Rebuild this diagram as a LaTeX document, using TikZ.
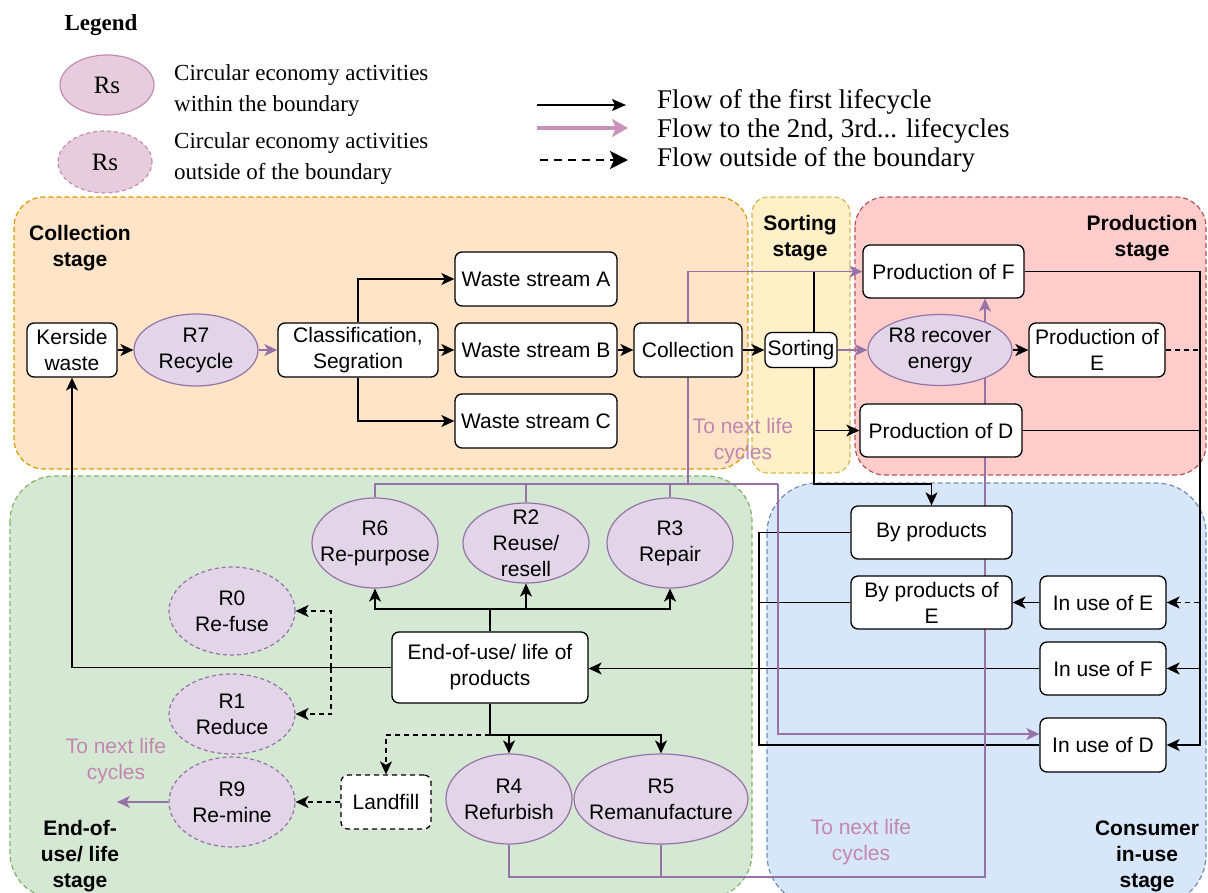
\documentclass[tikz,border=0pt]{standalone}
\usepackage{fontspec}
\setmainfont{Liberation Serif}
\newfontfamily\dsans{Liberation Sans}
\usetikzlibrary{shapes.geometric,arrows.meta,calc}
\pgfdeclarelayer{back}\pgfdeclarelayer{mid}
\pgfsetlayers{back,mid,main}
\newcommand\diagfont{\dsans\fontsize{21pt}{26pt}\selectfont}
\newcommand\legfont{\fontsize{23pt}{31pt}\selectfont}
\newcommand\flowfont{\fontsize{27pt}{30pt}\selectfont}
\definecolor{orF}{HTML}{FFE4C8}\definecolor{orS}{HTML}{D79B00}
\definecolor{yeF}{HTML}{FFF0C8}\definecolor{yeS}{HTML}{D6B656}
\definecolor{reF}{HTML}{FFCCCC}\definecolor{reS}{HTML}{B85450}
\definecolor{grF}{HTML}{D5E8D4}\definecolor{grS}{HTML}{82B366}
\definecolor{blF}{HTML}{D8E6FA}\definecolor{blS}{HTML}{6C8EBF}
\definecolor{puF}{HTML}{E1D5E7}\definecolor{puS}{HTML}{9673A6}
\definecolor{pkF}{HTML}{E6CCDC}\definecolor{pkS}{HTML}{C48DAE}
\definecolor{pkT}{HTML}{C287AE}\definecolor{legP}{HTML}{C993B9}
\begin{document}
\begin{tikzpicture}[x=1pt,y=-1pt,
  box/.style={draw=black, line width=1.3pt, fill=white, rounded corners=7pt, inner sep=0pt, align=center, font=\diagfont},
  rell/.style={ellipse, draw=puS, fill=puF, line width=1.2pt, inner sep=0pt},
  rout/.style={rell, dash pattern=on 4pt off 3pt},
  lell/.style={ellipse, draw=pkS, fill=pkF, line width=1.2pt, inner sep=0pt},
  etxt/.style={align=center, font=\diagfont, inner sep=0pt},
  stg/.style={line width=1.2pt, dash pattern=on 5pt off 3pt},
  stl/.style={align=center, font=\diagfont\bfseries, inner sep=0pt},
  nxt/.style={align=center, font=\diagfont, text=pkT, inner sep=0pt},
  blk/.style={draw=black, line width=1.4pt},
  blkA/.style={blk, -{Stealth[length=13pt,width=12pt,inset=3.5pt]}},
  pur/.style={draw=puS, line width=1.4pt},
  purA/.style={pur, -{Stealth[length=13pt,width=12pt,inset=3.5pt]}},
  dsh/.style={blk, dash pattern=on 5pt off 4pt},
  dshA/.style={dsh, -{Stealth[length=13pt,width=12pt,inset=3.5pt]}},
  legtxt/.style={align=left, font=\legfont, inner sep=0pt, anchor=west},
  flowtxt/.style={font=\flowfont, inner sep=0pt, anchor=west},
]
\useasboundingbox (0,0) rectangle (1208,892);

% stage containers
\begin{pgfonlayer}{back}
\begin{scope}
\clip (0,0) rectangle (1208,892);
\draw[stg, draw=orS, fill=orF, rounded corners=30pt] (14,197) rectangle (748,469);
\draw[stg, draw=yeS, fill=yeF, rounded corners=16pt] (752,197) rectangle (850,473);
\draw[stg, draw=reS, fill=reF, rounded corners=30pt] (855,197) rectangle (1206,475);
\draw[stg, draw=grS, fill=grF, rounded corners=45pt] (10,476) rectangle (752,898);
\draw[stg, draw=blS, fill=blF, rounded corners=50pt] (767,483) rectangle (1206,905);
\end{scope}
\end{pgfonlayer}

% legend
\node[font=\legfont\bfseries, inner sep=0pt] (legt) at (101,25) {Legend};
\node[lell, minimum width=94pt, minimum height=60pt] (ls1) at (107,85) {};
\node[font=\fontsize{25pt}{28pt}\selectfont, inner sep=0pt] at (ls1) {Rs};
\node[lell, dash pattern=on 4pt off 3pt, minimum width=94pt, minimum height=62pt] (ls2) at (105,162) {};
\node[font=\fontsize{25pt}{28pt}\selectfont, inner sep=0pt] at (ls2) {Rs};
\node[legtxt] (lt1) at (174,90) {Circular economy activities\\within the boundary};
\node[legtxt] (lt2) at (174,158) {Circular economy activities\\outside of the boundary};
\coordinate (la1) at (537,105); \coordinate (lb1) at (626,105);
\coordinate (la2) at (537,128); \coordinate (lb2) at (628,128);
\coordinate (la3) at (540,160); \coordinate (lb3) at (628,160);
\draw[draw=black, line width=1.5pt, -{Stealth[length=14pt,width=12pt,inset=3pt]}] (la1) -- (lb1);
\draw[draw=legP, line width=4pt, -{Stealth[length=16pt,width=18pt,inset=4pt]}] (la2) -- (lb2);
\draw[draw=black, line width=2.5pt, dash pattern=on 8pt off 6pt, -{Stealth[length=18pt,width=18pt,inset=4pt]}] (la3) -- (lb3);
\node[flowtxt] (ft1) at (657,102) {Flow of the first lifecycle};
\node[flowtxt] (ft2) at (657,131) {Flow to the 2nd, 3rd... lifecycles};
\node[flowtxt] (ft3) at (657,160) {Flow outside of the boundary};

% stage labels
\node[stl] (sl1) at (80,248) {Collection\\stage};
\node[stl] (sl2) at (800,238) {Sorting\\stage};
\node[stl] (sl3) at (1142,238) {Production\\stage};
\node[stl] (sl4) at (80,856) {End-of-\\use/ life\\stage};
\node[stl] (sl5) at (1147,856) {Consumer\\in-use\\stage};
\node[nxt] (n1) at (743,441) {To next life\\cycles};
\node[nxt] (n2) at (116,761) {To next life\\cycles};
\node[nxt] (n3) at (861,842) {To next life\\cycles};

% collection stage nodes
\node[box, minimum width=90pt, minimum height=54pt] (kers) at (72,350) {Kerside\\waste};
\node[rell, minimum width=124pt, minimum height=72pt] (r7) at (196,350) {};
\node[etxt] at (r7) {R7\\Recycle};
\node[box, minimum width=160pt, minimum height=54pt] (cls) at (358,350) {Classification,\\Segration};
\node[box, minimum width=162pt, minimum height=54pt] (wsA) at (536,279) {Waste stream A};
\node[box, minimum width=162pt, minimum height=54pt] (wsB) at (536,350) {Waste stream B};
\node[box, minimum width=162pt, minimum height=54pt] (wsC) at (536,421) {Waste stream C};
\node[box, minimum width=108pt, minimum height=54pt] (coll) at (688,350) {Collection};
\node[box, minimum width=72pt, minimum height=35pt] (sort) at (801,350) {Sorting};

% production stage nodes
\node[box, minimum width=161pt, minimum height=53pt] (prodF) at (943.5,271.5) {Production of F};
\node[rell, minimum width=144pt, minimum height=71pt] (r8) at (940,350) {};
\node[etxt] at (r8) {R8 recover\\energy};
\node[box, minimum width=136pt, minimum height=54pt] (prodE) at (1097,350) {Production of\\E};
\node[box, minimum width=162pt, minimum height=53pt] (prodD) at (941,430.5) {Production of D};

% consumer stage nodes
\node[box, minimum width=161pt, minimum height=53pt] (byp) at (931.5,532.5) {By products};
\node[box, minimum width=161pt, minimum height=53pt] (bypE) at (931.5,602.5) {By products of\\E};
\node[box, minimum width=126pt, minimum height=53pt] (inE) at (1103,602.5) {In use of E};
\node[box, minimum width=126pt, minimum height=53pt] (inF) at (1103,668.5) {In use of F};
\node[box, minimum width=126pt, minimum height=54pt] (inD) at (1103,745) {In use of D};

% end-of-use stage nodes
\node[box, minimum width=196pt, minimum height=71pt] (eou) at (490,667.5) {End-of-use/ life of\\products};
\node[rell, minimum width=126pt, minimum height=90pt] (r6) at (375,543) {};
\node[etxt] at (r6) {R6\\Re-purpose};
\node[rell, minimum width=126pt, minimum height=80pt] (r2) at (526,543) {};
\node[etxt] at (r2) {R2\\Reuse/\\resell};
\node[rell, minimum width=126pt, minimum height=90pt] (r3) at (670,543) {};
\node[etxt] at (r3) {R3\\Repair};
\node[rout, minimum width=126pt, minimum height=88pt] (r0) at (232,611) {};
\node[etxt] at (r0) {R0\\Re-fuse};
\node[rout, minimum width=126pt, minimum height=80pt] (r1) at (232,714) {};
\node[etxt] at (r1) {R1\\Reduce};
\node[rout, minimum width=126pt, minimum height=90pt] (r9) at (232,802) {};
\node[etxt] at (r9) {R9\\Re-mine};
\node[box, dash pattern=on 5pt off 4pt, minimum width=90pt, minimum height=54pt] (land) at (386,802) {Landfill};
\node[rell, minimum width=126pt, minimum height=90pt] (r4) at (509,799) {};
\node[etxt] at (r4) {R4\\Refurbish};
\node[rell, minimum width=174pt, minimum height=90pt] (r5) at (661,799) {};
\node[etxt] at (r5) {R5\\Remanufacture};

% helper coordinates
\coordinate (sx) at (814,0);
\coordinate (sj) at (814,484);
\coordinate (rr) at (1200,0);
\coordinate (lx) at (759,0);
\coordinate (tj) at (490,609);
\coordinate (bj) at (490,735);
\coordinate (dj) at (331,667.5);
\coordinate (ph) at (0,484);
\coordinate (pv1) at (688,484);
\coordinate (pv2) at (778,484);
\coordinate (pb) at (985,877);
\coordinate (pfree) at (117,802);

\begin{pgfonlayer}{mid}
% collection flow
\draw[blkA] (kers.east) -- (r7.west);
\draw[purA] (r7.east) -- (cls.west);
\draw[blkA] (cls.north) |- (wsA.west);
\draw[blkA] (cls.east) -- (wsB.west);
\draw[blkA] (cls.south) |- (wsC.west);
\draw[blkA] (wsB.east) -- (coll.west);
\draw[blkA] (coll.east) -- (sort.west);
% sorting
\draw[blk] (sort.north -| sx) |- (prodF.west);
\draw[blkA] (sort.south -| sx) |- (prodD.west);
\draw[blkA] (sort.south -| sx) -- (sj) -| (byp.north);
\draw[purA] (sort.east) -- (r8.west);
% production
\draw[blkA] (r8.east) -- (prodE.west);
\draw[blkA] (prodF.east) -- (prodF.east -| rr) -- (rr |- inF.east) -- (inF.east);
\draw[blkA] (prodD.east) -- (prodD.east -| rr) -- (rr |- inD.east) -- (inD.east);
\draw[dshA] (prodE.east) -- (prodE.east -| rr) -- (rr |- inE.east) -- (inE.east);
% consumer
\draw[blkA] (inE.west) -- (bypE.east);
\draw[blk] (byp.west) -- (byp.west -| lx) -- (lx |- inD.west) -- (inD.west);
\draw[blk] (bypE.west) -- (bypE.west -| lx);
\draw[blkA] (inF.west) -- (inF.west -| eou.east);
% end of use
\draw[blkA] (eou.west) -| (kers.south);
\draw[dsh] (eou.west) -- (dj);
\draw[dshA] (dj) |- (r0.east);
\draw[dshA] (dj) |- (r1.east);
\draw[blk] (eou.north) -- (tj);
\draw[blkA] (tj) -| (r6.south);
\draw[blkA] (tj) -| (r3.south);
\draw[blkA] (tj -| r2.south) -- (r2.south);
\draw[blk] (eou.south) -- (bj);
\draw[blkA] (bj) -| (r4.north);
\draw[blkA] (bj) -| (r5.north);
\draw[dshA] (bj) -| (land.north);
\draw[dshA] (land.west) -- (r9.east);
\draw[purA] (r9.west) -- (pfree);
% purple loops
\draw[pur] (r6.north) |- (pv2);
\draw[pur] (r2.north) -- (r2.north |- ph);
\draw[pur] (r3.north) -- (r3.north |- ph);
\draw[purA] (pv1) |- (prodF.west);
\draw[purA] (pv2) |- ([yshift=11pt]inD.west);
\draw[purA] (r4.south) |- (pb) -- (pb |- prodF.south);
\draw[pur] (r5.south) -- (r5.south |- pb);
\end{pgfonlayer}
\end{tikzpicture}
\end{document}
